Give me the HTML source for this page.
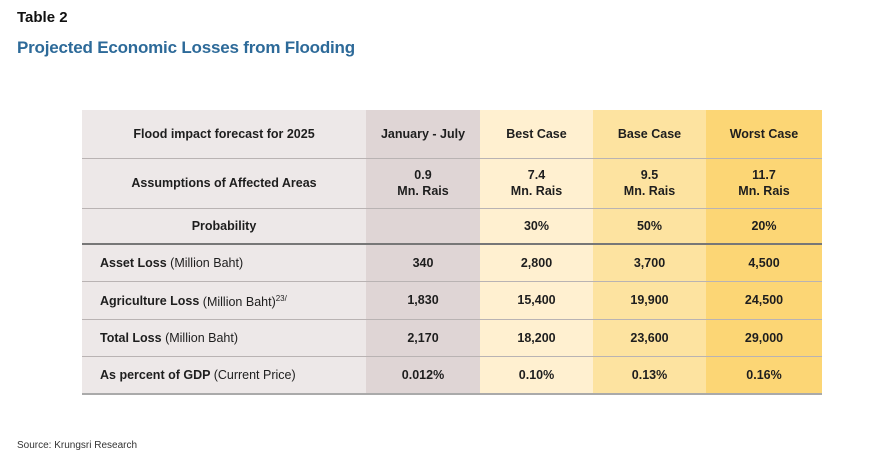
<!DOCTYPE html>
<html><head><meta charset="utf-8"><style>
body{margin:0;width:870px;height:468px;background:#fff;font-family:"Liberation Sans",sans-serif;position:relative;overflow:hidden;color:#222}
.t1{position:absolute;left:17px;top:9px;font-size:15px;font-weight:bold;color:#111}
.t2{position:absolute;left:17px;top:38px;font-size:17px;font-weight:bold;color:#2d6a99;letter-spacing:-0.2px}
.src{position:absolute;left:17px;top:440px;font-size:10px;color:#333}
table{position:absolute;left:82px;top:110px;width:740px;border-collapse:collapse;font-size:12.5px;font-weight:bold}
td{text-align:center;padding:0;border-bottom:1px solid #b9b3b3;line-height:16px;color:#1e1e1e}
td.c1{background:#ede8e8}td.c2{background:#dfd5d5;width:114px}td.c3{background:#fff0d0;width:113px}td.c4{background:#fde3a0;width:113px}td.c5{background:#fcd675;width:116px}
td.l{text-align:left;padding-left:18px}
.n{font-weight:normal}
tr.thick td{border-bottom:2px solid #777}
</style></head><body>
<div class="t1">Table 2</div>
<div class="t2">Projected Economic Losses from Flooding</div>
<table>
<tr style="height:48px"><td class="c1">Flood impact forecast for 2025</td><td class="c2">January - July</td><td class="c3">Best Case</td><td class="c4">Base Case</td><td class="c5">Worst Case</td></tr>
<tr style="height:50px"><td class="c1">Assumptions of Affected Areas</td><td class="c2">0.9<br>Mn. Rais</td><td class="c3">7.4<br>Mn. Rais</td><td class="c4">9.5<br>Mn. Rais</td><td class="c5">11.7<br>Mn. Rais</td></tr>
<tr style="height:36px" class="thick"><td class="c1">Probability</td><td class="c2"></td><td class="c3">30%</td><td class="c4">50%</td><td class="c5">20%</td></tr>
<tr style="height:37px"><td class="c1 l">Asset Loss <span class="n">(Million Baht)</span></td><td class="c2">340</td><td class="c3">2,800</td><td class="c4">3,700</td><td class="c5">4,500</td></tr>
<tr style="height:38px"><td class="c1 l">Agriculture Loss <span class="n">(Million Baht)<sup style="font-size:8px">23/</sup></span></td><td class="c2">1,830</td><td class="c3">15,400</td><td class="c4">19,900</td><td class="c5">24,500</td></tr>
<tr style="height:37px"><td class="c1 l">Total Loss <span class="n">(Million Baht)</span></td><td class="c2">2,170</td><td class="c3">18,200</td><td class="c4">23,600</td><td class="c5">29,000</td></tr>
<tr style="height:38px"><td class="c1 l" style="border-bottom:2px solid #aaa">As percent of GDP <span class="n">(Current Price)</span></td><td class="c2" style="border-bottom:2px solid #aaa">0.012%</td><td class="c3" style="border-bottom:2px solid #aaa">0.10%</td><td class="c4" style="border-bottom:2px solid #aaa">0.13%</td><td class="c5" style="border-bottom:2px solid #aaa">0.16%</td></tr>
</table>
<div class="src">Source: Krungsri Research</div>
</body></html>
